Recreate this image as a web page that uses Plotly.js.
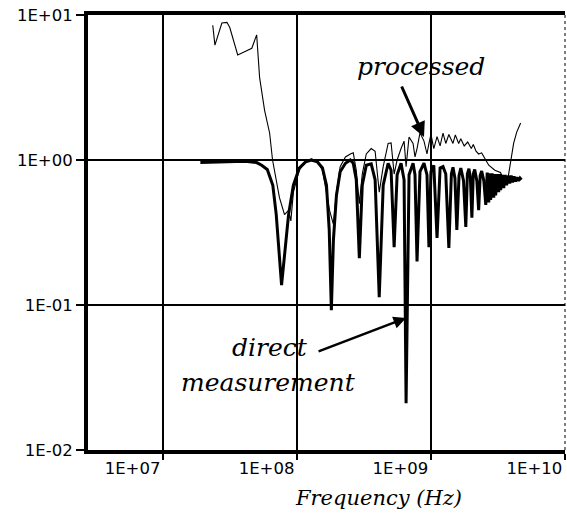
<!DOCTYPE html>
<html>
<head>
<meta charset="utf-8">
<script src="https://cdn.plot.ly/plotly-3.0.1.min.js"></script>
<style>
html,body{margin:0;padding:0;background:#fff;}
#chart{width:567px;height:515px;}
</style>
</head>
<body>
<div id="chart"></div>
<script>
// Direct measurement (Hz, magnitude)
const directFreq = [
  1.9e7, 2.5e7, 3.2e7, 4.1e7, 5.0e7, 5.45e7, 6.0e7, 6.6e7, 7.0e7, 7.4e7,
  7.67e7, 8.07e7, 8.65e7, 9.4e7, 1.04e8, 1.16e8, 1.28e8, 1.42e8, 1.55e8, 1.66e8,
  1.74e8, 1.805e8, 1.87e8, 1.97e8, 2.1e8, 2.3e8, 2.5e8, 2.63e8, 2.77e8, 2.92e8,
  3.07e8, 3.29e8, 3.58e8, 3.83e8, 4.11e8, 4.4e8, 4.79e8, 5.04e8, 5.31e8, 5.59e8,
  5.98e8, 6.3e8, 6.52e8, 6.86e8, 7.35e8, 7.6e8, 7.87e8, 8.28e8, 8.87e8, 9.34e8,
  9.66e8, 1.0e9, 1.05e9, 1.11e9, 1.17e9, 1.23e9, 1.29e9, 1.36e9, 1.42e9, 1.46e9,
  1.51e9, 1.56e9, 1.62e9, 1.67e9, 1.75e9, 1.82e9, 1.87e9, 1.92e9, 1.97e9, 2.02e9,
  2.07e9, 2.12e9, 2.2e9, 2.27e9, 2.33e9, 2.39e9, 2.48e9, 2.565e9, 2.63e9, 2.70e9,
  2.75e9, 2.79e9, 2.86e9, 2.94e9, 2.99e9, 3.04e9, 3.12e9, 3.20e9, 3.26e9, 3.31e9,
  3.40e9, 3.49e9, 3.58e9, 3.67e9, 3.77e9, 3.87e9, 3.97e9, 4.07e9, 4.17e9, 4.28e9,
  4.39e9, 4.51e9, 4.62e9, 4.74e9
];
const directMag = [
  0.96, 0.97, 0.98, 0.98, 0.96, 0.92, 0.86, 0.67, 0.42, 0.22,
  0.137, 0.22, 0.42, 0.67, 0.88, 0.97, 1.0, 0.97, 0.88, 0.67,
  0.33, 0.092, 0.28, 0.57, 0.83, 0.95, 1.0, 0.95, 0.73, 0.21,
  0.67, 0.92, 0.94, 0.73, 0.113, 0.67, 0.95, 0.85, 0.25, 0.79,
  0.95, 0.73, 0.021, 0.79, 0.95, 0.79, 0.20, 0.83, 0.95, 0.79,
  0.25, 0.83, 0.92, 0.29, 0.88, 0.90, 0.80, 0.247, 0.80, 0.89,
  0.75, 0.33, 0.78, 0.88, 0.72, 0.345, 0.80, 0.87, 0.75, 0.40,
  0.80, 0.86, 0.72, 0.45, 0.78, 0.84, 0.72, 0.49, 0.82, 0.51,
  0.81, 0.53, 0.81, 0.55, 0.80, 0.57, 0.80, 0.60, 0.80, 0.62,
  0.79, 0.64, 0.79, 0.67, 0.78, 0.69, 0.78, 0.70, 0.77, 0.71,
  0.76, 0.72, 0.75, 0.73
];

// Processed (Hz, magnitude)
const processedFreq = [
  2.35e7, 2.44e7, 2.75e7, 3.0e7, 3.15e7, 3.61e7, 4.1e7, 4.6e7, 5.0e7, 5.09e7,
  5.26e7, 5.73e7, 6.25e7, 6.57e7, 7.0e7, 7.4e7, 8.07e7, 8.65e7, 9.0e7, 9.4e7,
  1.04e8, 1.16e8, 1.28e8, 1.42e8, 1.55e8, 1.66e8, 1.75e8, 1.87e8, 1.97e8, 2.1e8,
  2.3e8, 2.5e8, 2.63e8, 2.77e8, 2.92e8, 3.07e8, 3.29e8, 3.58e8, 3.83e8, 4.11e8,
  4.4e8, 4.79e8, 5.04e8, 5.31e8, 5.59e8, 5.98e8, 6.3e8, 6.52e8, 6.86e8, 7.35e8,
  7.6e8, 7.87e8, 8.28e8, 8.87e8, 9.34e8, 9.66e8, 1.0e9, 1.05e9, 1.11e9, 1.17e9,
  1.23e9, 1.29e9, 1.36e9, 1.46e9, 1.52e9, 1.61e9, 1.67e9, 1.77e9, 1.88e9, 2.0e9,
  2.07e9, 2.17e9, 2.27e9, 2.39e9, 2.57e9, 2.7e9, 3.0e9, 3.3e9, 3.49e9, 3.67e9,
  3.8e9, 3.93e9, 4.14e9, 4.36e9, 4.67e9
];
const processedMag = [
  8.5, 6.2, 8.8, 8.9, 8.2, 5.3, 5.6, 5.9, 7.3, 5.7,
  3.7, 2.2, 1.53, 1.0, 0.75, 0.55, 0.42, 0.45, 0.38, 0.6,
  0.85, 0.98, 1.02, 0.98, 0.85, 0.6, 0.45, 0.36, 0.6, 0.9,
  1.05, 1.1, 1.12, 0.85, 0.5, 0.8, 1.1, 1.2, 1.15, 0.6,
  0.9, 1.3, 1.31, 0.8, 1.0, 1.2, 1.35, 0.9, 1.44, 1.3,
  1.05, 1.2, 1.54, 1.35, 1.1, 1.3, 1.5, 1.2, 1.45, 1.25,
  1.53, 1.3, 1.5, 1.3, 1.49, 1.3, 1.4, 1.25, 1.33, 1.2,
  1.28, 1.15, 1.1, 1.12, 1.0, 0.92, 0.85, 0.82, 0.74, 0.70,
  0.8, 0.95, 1.3, 1.55, 1.8
];

const xTickVals = [1e7, 1e8, 1e9, 1e10];
const xTickText = ["1E+07", "1E+08", "1E+09", "1E+10"];
const yTickVals = [1e1, 1e0, 1e-1, 1e-2];
const yTickText = ["1E+01", "1E+00", "1E-01", "1E-02"];

const traces = [
  {x: directFreq, y: directMag, type: 'scatter', mode: 'lines',
   line: {color: '#000', width: 3}, hoverinfo: 'skip'},
  {x: processedFreq, y: processedMag, type: 'scatter', mode: 'lines',
   line: {color: '#000', width: 1.1}, hoverinfo: 'skip'}
];

const serif = {family: 'DejaVu Serif', size: 25, color: '#000', style: 'italic'};
const tickFont = {family: 'DejaVu Sans', size: 16.5, color: '#000'};

const layout = {
  width: 567, height: 515,
  margin: {l: 88, r: 2, t: 15, b: 65},
  paper_bgcolor: '#fff', plot_bgcolor: '#fff',
  showlegend: false,
  xaxis: {
    type: 'log', range: [6.44, 10.0005],
    tickvals: xTickVals, ticktext: xTickText,
    ticklabelposition: 'outside left',
    ticks: 'outside', ticklen: 6, tickwidth: 1.2, tickcolor: '#000',
    showgrid: true, gridcolor: '#000', gridwidth: 1.2,
    showline: true, linecolor: '#000', linewidth: 4, mirror: true,
    zeroline: false,
    tickfont: tickFont
  },
  yaxis: {
    type: 'log', range: [-2, 1],
    tickvals: yTickVals, ticktext: yTickText,
    ticks: 'outside', ticklen: 8, tickwidth: 1.2, tickcolor: '#000',
    showgrid: true, gridcolor: '#000', gridwidth: 1.5,
    showline: true, linecolor: '#000', linewidth: 4, mirror: false,
    zeroline: false,
    tickfont: tickFont
  },
  shapes: [
    {type: 'line', xref: 'paper', yref: 'paper', x0: 1, x1: 1, y0: 0, y1: 1,
     line: {color: '#000', width: 1, dash: 'dot'}}
  ],
  annotations: [
    {x: 8.9257, y: 0.648, xref: 'x', yref: 'y', text: 'processed', showarrow: false,
     font: serif, xanchor: 'center', yanchor: 'middle'},
    {x: 8.948, y: 0.1586, xref: 'x', yref: 'y', text: '', showarrow: true,
     arrowhead: 2, arrowsize: 1, arrowwidth: 3, arrowcolor: '#000', ax: -23, ay: -52, standoff: 0},
    {x: 7.7955, y: -1.2897, xref: 'x', yref: 'y', text: 'direct', showarrow: false,
     font: serif, xanchor: 'center', yanchor: 'middle'},
    {x: 7.788, y: -1.531, xref: 'x', yref: 'y', text: 'measurement', showarrow: false,
     font: serif, xanchor: 'center', yanchor: 'middle'},
    {x: 8.8141, y: -1.0897, xref: 'x', yref: 'y', text: '', showarrow: true,
     arrowhead: 2, arrowsize: 1, arrowwidth: 2.5, arrowcolor: '#000', ax: -89, ay: 34, standoff: 0},
    {x: 0.608, y: -0.110, xref: 'paper', yref: 'paper', text: 'Frequency (Hz)', showarrow: false,
     font: {family: 'DejaVu Serif', size: 21, color: '#000', style: 'italic'},
     xanchor: 'center', yanchor: 'middle'}
  ]
};

Plotly.newPlot('chart', traces, layout, {displayModeBar: false, staticPlot: true});
</script>
</body>
</html>
